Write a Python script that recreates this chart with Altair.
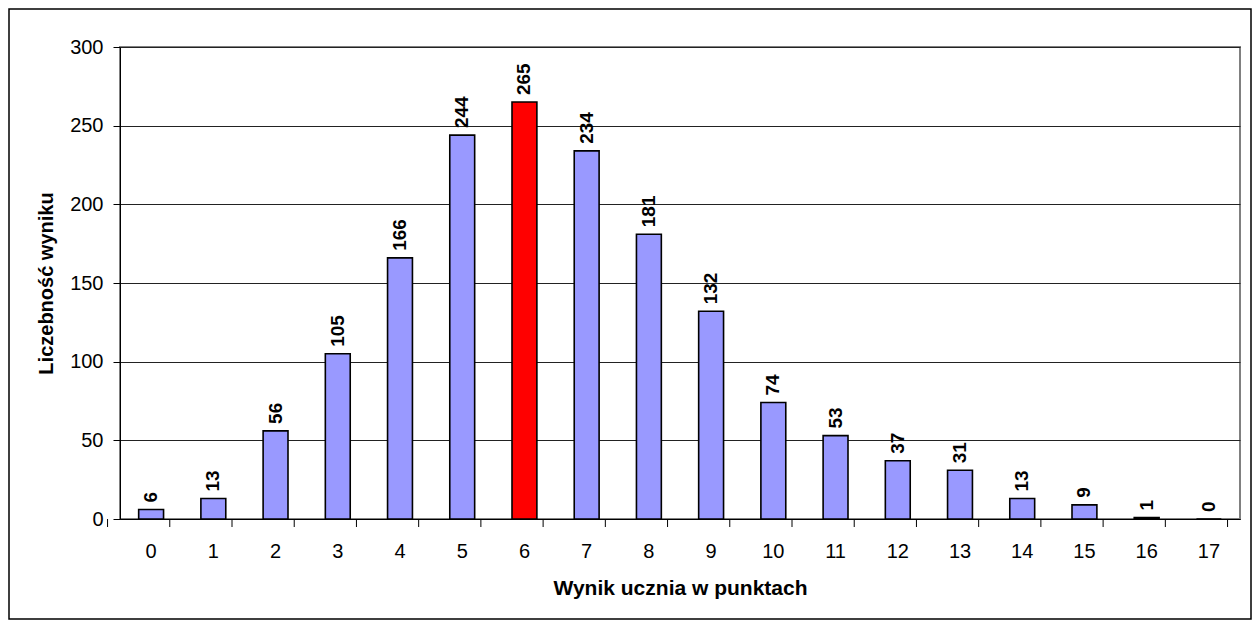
import altair as alt
import pandas as pd

scores = [str(i) for i in range(18)]
counts = [6, 13, 56, 105, 166, 244, 265, 234, 181, 132, 74, 53, 37, 31, 13, 9, 1, 0]
highlight = ["no"] * 18
highlight[6] = "yes"

df = pd.DataFrame({"score": scores, "count": counts, "hl": highlight})

FONT = "Liberation Sans"
W, H = 1120, 472
PAD = {"left": 112, "top": 39, "right": 12, "bottom": 101}
STEP = W / len(scores)

xscale = alt.Scale(domain=scores, paddingInner=0.6, paddingOuter=0.3)

x = alt.X(
    "score:N",
    sort=scores,
    title="Wynik ucznia w punktach",
    scale=xscale,
    axis=alt.Axis(
        labelAngle=0,
        ticks=False,
        labelPadding=22,
        labelFontSize=20,
        titleFontSize=21,
        titleFontWeight="bold",
        titlePadding=16,
        domainColor="#000000",
        labelColor="#000000",
        titleColor="#000000",
        grid=False,
    ),
)
y = alt.Y(
    "count:Q",
    title="Liczebność wyniku",
    scale=alt.Scale(domain=[0, 300], nice=False),
    axis=alt.Axis(
        values=[0, 50, 100, 150, 200, 250, 300],
        tickSize=7,
        labelPadding=10,
        labelFontSize=20,
        titleFontSize=20,
        titleFontWeight="bold",
        titlePadding=13,
        domainColor="#000000",
        tickColor="#000000",
        labelColor="#000000",
        titleColor="#000000",
        grid=True,
        gridColor="#222222",
        gridWidth=1,
    ),
)

bars = alt.Chart(df).mark_bar(stroke="#000000", strokeWidth=1.6).encode(
    x=x,
    y=y,
    color=alt.Color(
        "hl:N",
        scale=alt.Scale(domain=["no", "yes"], range=["#9999FF", "#FF0000"]),
        legend=None,
    ),
)

labels = alt.Chart(df).mark_text(
    angle=270,
    align="left",
    baseline="middle",
    dx=7,
    fontSize=19,
    fontWeight="bold",
    font=FONT,
    color="#000000",
).encode(x=alt.X("score:N", sort=scores), y=alt.Y("count:Q"), text="count:Q")

# category-boundary ticks below the x axis
ticks_left = alt.Chart(df).mark_rule(color="#000000", strokeWidth=1).encode(
    x=alt.X("score:N", sort=scores),
    xOffset=alt.value(-STEP / 2),
    y=alt.value(H),
    y2=alt.value(H + 8),
)
ticks_right = alt.Chart(df.tail(1)).mark_rule(color="#000000", strokeWidth=1).encode(
    x=alt.X("score:N", sort=scores),
    xOffset=alt.value(STEP / 2),
    y=alt.value(H),
    y2=alt.value(H + 8),
)

frame = alt.Chart(pd.DataFrame({"a": [0]})).mark_rect(
    fill=None, filled=False, stroke="#000000", strokeWidth=1.5
).encode(
    x=alt.value(-PAD["left"] + 1),
    x2=alt.value(W + PAD["right"] - 1),
    y=alt.value(-PAD["top"] + 1),
    y2=alt.value(H + PAD["bottom"] - 1),
)

chart = (
    alt.layer(bars, labels, ticks_left, ticks_right, frame)
    .properties(
        width=W,
        height=H,
        padding=PAD,
        autosize=alt.AutoSizeParams(type="none"),
        background="#FFFFFF",
    )
    .configure(font=FONT)
    .configure_view(stroke="#808080", strokeWidth=2)
)

chart.save("out.html", embed_options={"renderer": "svg", "actions": False})
